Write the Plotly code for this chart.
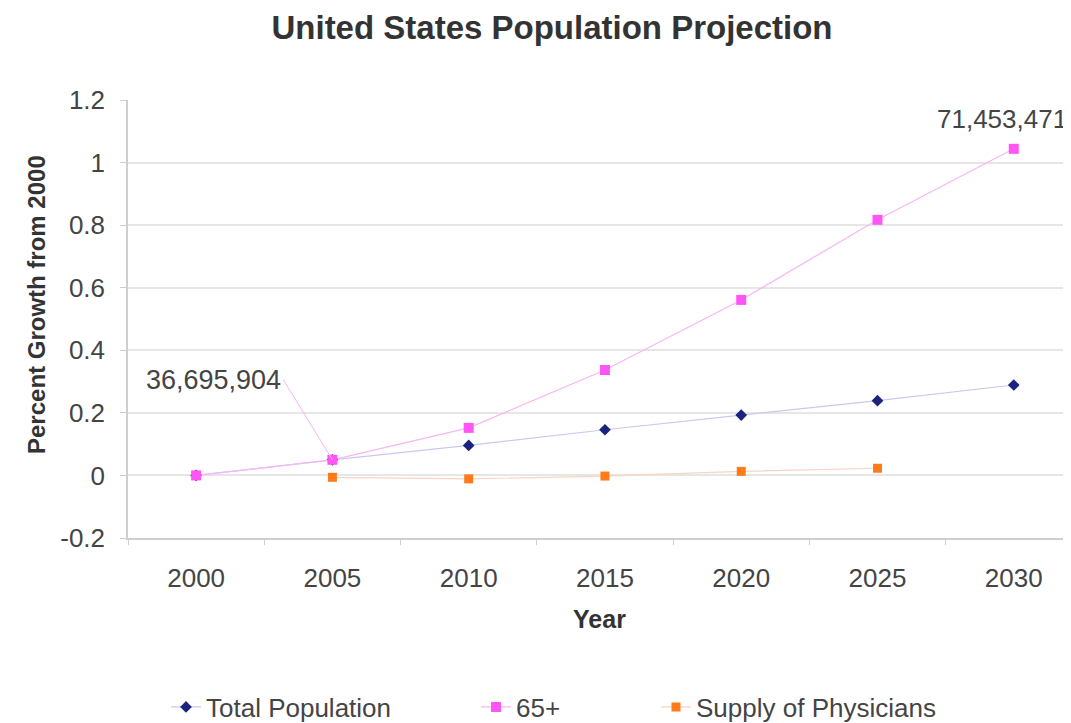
import plotly.graph_objects as go

years = [2000, 2005, 2010, 2015, 2020, 2025, 2030]
total_population = [0.0, 0.05, 0.096, 0.146, 0.193, 0.239, 0.289]
age_65_plus = [0.0, 0.05, 0.152, 0.337, 0.561, 0.817, 1.044]
phys_years = [2005, 2010, 2015, 2020, 2025]
supply_physicians = [-0.006, -0.011, -0.002, 0.013, 0.023]

y_tick_values = [-0.2, 0, 0.2, 0.4, 0.6, 0.8, 1, 1.2]
y_tick_labels = ["-0.2", "0", "0.2", "0.4", "0.6", "0.8", "1", "1.2"]

label_2005 = "36,695,904"
label_2030 = "71,453,471"

idx = {y: i for i, y in enumerate(years)}
x_all = [idx[y] for y in years]
x_phys = [idx[y] for y in phys_years]

font_family = "Liberation Sans, Arial, sans-serif"
txt = "#444444"

# the page adds an 8px body margin, so the figure is sized to fit inside it
W, H = 1063, 715

fig = go.Figure()
fig.add_trace(go.Scatter(
    x=x_all, y=total_population, mode="lines+markers", name="Total Population",
    line=dict(color="#c9c9ee", width=1.2),
    marker=dict(symbol="diamond", size=9, color="#1a237e"),
    legend="legend"))
fig.add_trace(go.Scatter(
    x=x_all, y=age_65_plus, mode="lines+markers", name="65+",
    line=dict(color="#f7b6f4", width=1.2),
    marker=dict(symbol="square", size=10, color="#ff55f5"),
    legend="legend2"))
fig.add_trace(go.Scatter(
    x=x_phys, y=supply_physicians, mode="lines+markers", name="Supply of Physicians",
    line=dict(color="#fbd3c0", width=1.2),
    marker=dict(symbol="square", size=9, color="#ff7a1a"),
    legend="legend3"))

fig.add_annotation(
    x=idx[2005], y=age_65_plus[1], text=label_2005, xref="x", yref="y",
    showarrow=True, arrowhead=0, arrowwidth=1, arrowcolor="#f7b6f4",
    ax=-49, ay=-80, xanchor="right", yanchor="middle",
    font=dict(family=font_family, size=27, color=txt))
fig.add_annotation(
    x=idx[2030], y=age_65_plus[6], text=label_2030, xref="x", yref="y",
    showarrow=False, xshift=-12, yshift=30,
    font=dict(family=font_family, size=26, color=txt))
fig.add_annotation(
    text="<b>Percent Growth from 2000</b>", textangle=-90,
    xref="paper", yref="paper", x=-92 / 943, y=(438 - 205) / 438,
    xanchor="center", yanchor="middle", showarrow=False,
    font=dict(family=font_family, size=24, color="#333333"))

leg_common = dict(orientation="h", yanchor="middle", xanchor="left",
                  bgcolor="rgba(0,0,0,0)",
                  font=dict(family=font_family, size=26, color=txt),
                  xref="container", yref="container", y=(H - 699) / H)

fig.update_layout(
    width=W, height=H,
    paper_bgcolor="white", plot_bgcolor="white",
    margin=dict(l=120, r=0, t=92, b=185, autoexpand=False),
    title=dict(text="<b>United States Population Projection</b>",
               x=544 / W, xref="container", y=1 - 19 / H, yref="container",
               xanchor="center", yanchor="middle",
               font=dict(family=font_family, size=33, color="#333333")),
    xaxis=dict(range=[-0.5, 6.42], tickvals=x_all, ticktext=[str(y) for y in years],
               showgrid=False, zeroline=False, showline=True, linecolor="#cfcfcf",
               linewidth=1.5, ticks="", ticklabelstandoff=16, automargin=False,
               minor=dict(tickvals=[i + 0.5 for i in range(-1, 7)], ticks="outside",
                          ticklen=5, tickcolor="#cfcfcf", showgrid=False),
               tickfont=dict(family=font_family, size=26, color=txt),
               title=dict(text="<b>Year</b>", standoff=19,
                          font=dict(family=font_family, size=25, color="#333333"))),
    yaxis=dict(range=[-0.2, 1.2], tickvals=y_tick_values, ticktext=y_tick_labels,
               showgrid=True, automargin=False,
               gridcolor="#e6e6e6", gridwidth=1.5, zeroline=False,
               showline=True, linecolor="#cfcfcf", linewidth=1.5,
               ticks="outside", ticklen=6, tickcolor="#cfcfcf", ticklabelstandoff=10,
               tickfont=dict(family=font_family, size=26, color=txt)),
    legend=dict(x=158 / W, **leg_common),
    legend2=dict(x=468 / W, **leg_common),
    legend3=dict(x=648 / W, **leg_common),
    showlegend=True,
)

fig.write_html("out.html")
